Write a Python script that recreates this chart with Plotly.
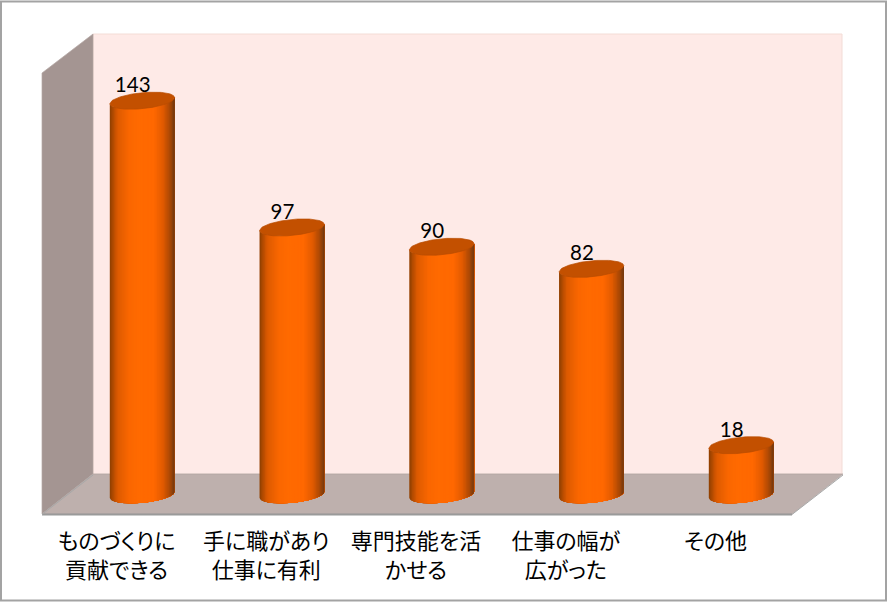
import plotly.graph_objects as go

# ---- data ----
categories = ["ものづくりに<br>貢献できる", "手に職があり<br>仕事に有利", "専門技能を活<br>かせる",
              "仕事の幅が<br>広がった", "その他"]
values = [143, 97, 90, 82, 18]

# ---- scale set-up (figure pixels) ----
W, H = 888, 603
PLOT_BOTTOM = 520
TICK0, STEP = 116.5, 149.75
BASE_PX, PX_PER_UNIT = 494.8, 2.756
DEPTH_DX = 25.7
R, B, TILT = 32.4, 8.0, 0.095
LABEL_DX, LABEL_DY = -9.5, 13.5

x_range = [-TICK0 / STEP, (W - TICK0) / STEP]
y_range = [(BASE_PX - PLOT_BOTTOM) / PX_PER_UNIT, BASE_PX / PX_PER_UNIT]
dx = lambda px: px / STEP
dy = lambda px: px / PX_PER_UNIT
X = lambda px: (px - TICK0) / STEP
Y = lambda py: (BASE_PX - py) / PX_PER_UNIT


def hexmix(a, b, t):
    return "#%02X%02X%02X" % tuple(round(a[i] + (b[i] - a[i]) * t) for i in range(3))


STOPS = [(0.0, (140, 62, 0)), (0.04, (170, 72, 0)), (0.12, (220, 90, 0)), (0.30, (250, 103, 0)),
         (0.45, (255, 106, 0)), (0.68, (255, 104, 0)), (0.82, (225, 90, 0)), (0.93, (170, 72, 5)),
         (1.0, (110, 55, 15))]


def shade(f):
    for (f0, c0), (f1, c1) in zip(STOPS, STOPS[1:]):
        if f <= f1:
            return hexmix(c0, c1, (f - f0) / (f1 - f0))
    return hexmix(STOPS[-1][1], STOPS[-1][1], 0)


def half(u):
    return B * max(0.0, 1 - (u / R) ** 2) ** 0.5


def lower(u):
    """pixel offset (downwards) of the front edge of an end cap at offset u"""
    return -TILT * u + half(u)


def upper(u):
    return -TILT * u - half(u)


fig = go.Figure()

# cylinder bodies: one trace per shade, painted left to right, each reaching the right edge
N = 48
M = 60
for k in range(N):
    u0 = -R + 2 * R * k / N
    us = [u0 + (R - u0) * j / M for j in range(M + 1)]
    xs, ys = [], []
    for i, v in enumerate(values):
        cx = i + dx(DEPTH_DX)
        xs += [cx + dx(u) for u in us] + [cx + dx(u) for u in reversed(us)] + [None]
        ys += [v - dy(lower(u)) for u in us] + [0 - dy(lower(u)) for u in reversed(us)] + [None]
    col = shade((k + 0.5) / N)
    fig.add_trace(go.Scatter(x=xs, y=ys, mode="lines", fill="toself", fillcolor=col,
                             line=dict(width=0), hoverinfo="skip", showlegend=False))

# top caps
xs, ys = [], []
for i, v in enumerate(values):
    cx = i + dx(DEPTH_DX)
    us = [-R + 2 * R * j / M for j in range(M + 1)]
    xs += [cx + dx(u) for u in us] + [cx + dx(u) for u in reversed(us)] + [None]
    ys += [v - dy(upper(u)) for u in us] + [v - dy(lower(u)) for u in reversed(us)] + [None]
fig.add_trace(go.Scatter(x=xs, y=ys, mode="lines", fill="toself", fillcolor="#C35000",
                         line=dict(color="#B84C00", width=0.7), hoverinfo="skip", showlegend=False))

# data labels
fig.add_trace(go.Scatter(x=[i + dx(DEPTH_DX + LABEL_DX) for i in range(len(values))],
                         y=[v + dy(LABEL_DY) for v in values],
                         text=[str(v) for v in values], mode="text", textposition="middle center",
                         textfont=dict(family="Lato", size=20.5, color="#000000"),
                         hoverinfo="skip", showlegend=False))


def poly(pts, fill, line=None, width=0):
    path = "M" + " L".join(f"{X(a)},{Y(b)}" for a, b in pts) + " Z"
    return dict(type="path", path=path, xref="x", yref="y", fillcolor=fill, layer="below",
                line=dict(color=line or fill, width=width))


shapes = [
    poly([(93, 34), (842, 34), (842, 474), (93, 474)], "#FEEAE7", "#F3DCD6", 1),
    poly([(42, 73), (93, 34), (93, 474), (42, 514)], "#A49592", "#B5A8A5", 0.7),
    poly([(93, 474), (843, 474), (792, 514), (42, 514)], "#BEB0AD", "#B0A5A2", 0.7),
    dict(type="line", xref="x", yref="y", x0=X(42), x1=X(792), y0=Y(514.5), y1=Y(514.5),
         line=dict(color="#9A9A9A", width=2), layer="below"),
    dict(type="line", xref="x", yref="y", x0=X(792), x1=X(843), y0=Y(514.5), y1=Y(475),
         line=dict(color="#A8A8A8", width=1), layer="below"),
    dict(type="line", xref="x", yref="y", x0=X(42), x1=X(93), y0=Y(514.5), y1=Y(475),
         line=dict(color="#A8A8A8", width=1), layer="below"),
    dict(type="rect", xref="paper", yref="paper", x0=1 / W, x1=886 / W,
         y0=(PLOT_BOTTOM - 600.5) / PLOT_BOTTOM, y1=(PLOT_BOTTOM - 1.5) / PLOT_BOTTOM,
         line=dict(color="#A3A3A3", width=2), fillcolor="rgba(0,0,0,0)", layer="above"),
]

fig.update_layout(
    width=W, height=H, margin=dict(l=0, r=0, t=0, b=H - PLOT_BOTTOM),
    paper_bgcolor="#FFFFFF", plot_bgcolor="rgba(0,0,0,0)", showlegend=False, shapes=shapes,
    xaxis=dict(range=x_range, tickmode="array", tickvals=list(range(len(values))), ticktext=categories,
               showgrid=False, zeroline=False, showline=False, ticks="", ticklabelstandoff=6,
               tickangle=0, tickfont=dict(family="Noto Sans CJK JP", size=22, color="#000000"),
               fixedrange=True),
    yaxis=dict(range=y_range, visible=False, fixedrange=True),
)
fig.write_html("out.html", config=dict(displayModeBar=False),
               post_script="document.body.style.margin='0';"
                           "document.querySelectorAll('.xtick text').forEach(function(t){"
                           "t.style.fontFeatureSettings='\"palt\"';});")
